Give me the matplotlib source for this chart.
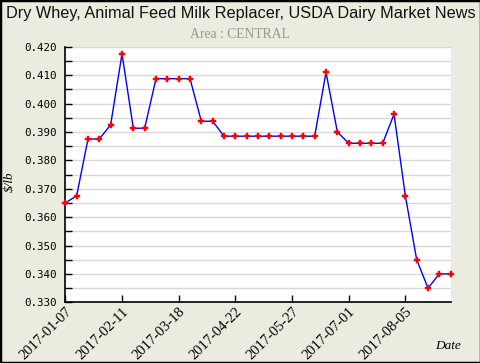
"""Dry whey (animal feed milk replacer) weekly price, central area."""
import matplotlib
matplotlib.use("Agg")
import matplotlib.pyplot as plt
import matplotlib.dates as mdates
from matplotlib.ticker import MultipleLocator, FormatStrFormatter
from matplotlib.patches import Rectangle
import pandas as pd

# weekly prices, $/lb, starting 2017-01-07
prices = [0.365, 0.3675, 0.3875, 0.3875, 0.3925, 0.4175, 0.3913, 0.3913,
          0.40875, 0.40875, 0.40875, 0.40875, 0.39375, 0.39375,
          0.3885, 0.3885, 0.3885, 0.3885, 0.3885, 0.3885, 0.3885, 0.3885, 0.3885,
          0.411, 0.390, 0.386, 0.386, 0.386, 0.386, 0.39625,
          0.3675, 0.345, 0.335, 0.340, 0.340]
dates = pd.date_range("2017-01-07", periods=len(prices), freq="7D")
tick_dates = pd.to_datetime(["2017-01-07", "2017-02-11", "2017-03-18", "2017-04-22",
                             "2017-05-27", "2017-07-01", "2017-08-05"])

BG = "#ebebdf"

fig = plt.figure(figsize=(4.81, 3.63), dpi=100, facecolor=BG)
ax = fig.add_axes([0.1358, 0.1672, 0.937 - 0.1358, 0.8713 - 0.1672])
ax.set_facecolor("white")

ax.plot(dates, prices, color="#0000ff", lw=1.0, zorder=3)
ax.plot(dates, prices, ls="none", marker="P", ms=4.2, color="red",
        mec="red", mew=0.3, zorder=4, clip_on=False)

ax.set_xlim(dates[0], dates[-1])
ax.set_ylim(0.330, 0.420)
ax.yaxis.set_major_locator(MultipleLocator(0.01))
ax.yaxis.set_minor_locator(MultipleLocator(0.005))
ax.yaxis.set_major_formatter(FormatStrFormatter("%.3f"))
ax.grid(axis="y", which="both", color="#d8d8d8", lw=1.0, zorder=0)

ax.set_xticks(tick_dates)
ax.xaxis.set_major_formatter(mdates.DateFormatter("%Y-%m-%d"))

for s in ("top", "right"):
    ax.spines[s].set_visible(False)
for s in ("left", "bottom"):
    ax.spines[s].set_linewidth(1.2)

ax.tick_params(axis="y", which="both", direction="in", length=5, width=1,
               labelsize=7.8, pad=6)
ax.tick_params(axis="x", direction="in", length=5, width=1, pad=2)
for lab in ax.get_yticklabels():
    lab.set_family("DejaVu Sans Mono")
for lab in ax.get_xticklabels():
    lab.set_family("Liberation Serif")
    lab.set_fontsize(10.5)
    lab.set_rotation(45)
    lab.set_ha("right")
    lab.set_va("top")
    lab.set_rotation_mode("anchor")

fig.text(0.5, 0.963, "Dry Whey, Animal Feed Milk Replacer, USDA Dairy Market News",
         ha="center", va="center", fontsize=11.7, family="Liberation Sans", color="#111111")
fig.text(0.5, 0.906, "Area : CENTRAL", ha="center", va="center", fontsize=9.8,
         family="Liberation Serif", color="#999988")
fig.text(0.02, 0.5, "$/lb", rotation=90, ha="center", va="center", fontsize=9.5,
         family="Liberation Serif", style="italic")
fig.text(0.932, 0.048, "Date", ha="center", va="center", fontsize=9.5,
         family="Liberation Serif", style="italic")

fig.patches.append(Rectangle((0, 0), 1, 1, transform=fig.transFigure, fill=False,
                             edgecolor="black", lw=2.5, zorder=10))

fig.savefig("out.png", dpi=100, facecolor=BG)
